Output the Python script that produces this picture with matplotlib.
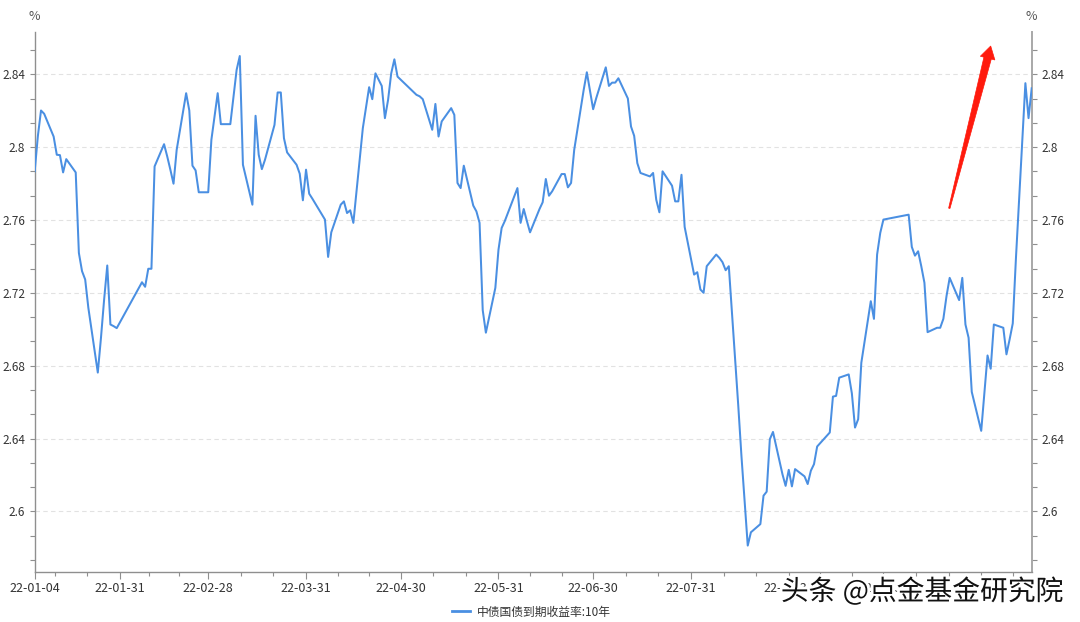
import matplotlib
matplotlib.use("Agg")
import matplotlib.pyplot as plt
import matplotlib.patheffects as pe
from matplotlib.lines import Line2D
from matplotlib.patches import Polygon
import numpy as np
import pandas as pd

plt.rcParams['font.family'] = ['Noto Sans CJK SC', 'DejaVu Sans']

# ---------------- data ----------------
dates = [
    "2022-01-04", "2022-01-05", "2022-01-06", "2022-01-07", "2022-01-10", "2022-01-11", "2022-01-12",
    "2022-01-13", "2022-01-14", "2022-01-17", "2022-01-18", "2022-01-19", "2022-01-20", "2022-01-21",
    "2022-01-24", "2022-01-25", "2022-01-26", "2022-01-27", "2022-01-28", "2022-01-29", "2022-01-30",
    "2022-02-07", "2022-02-08", "2022-02-09", "2022-02-10", "2022-02-11", "2022-02-14", "2022-02-15",
    "2022-02-16", "2022-02-17", "2022-02-18", "2022-02-21", "2022-02-22", "2022-02-23", "2022-02-24",
    "2022-02-25", "2022-02-28",
    "2022-03-01", "2022-03-02", "2022-03-03", "2022-03-04", "2022-03-07", "2022-03-08", "2022-03-09",
    "2022-03-10", "2022-03-11", "2022-03-14", "2022-03-15", "2022-03-16", "2022-03-17", "2022-03-18",
    "2022-03-21", "2022-03-22", "2022-03-23", "2022-03-24", "2022-03-25", "2022-03-28", "2022-03-29",
    "2022-03-30", "2022-03-31",
    "2022-04-01", "2022-04-02", "2022-04-06", "2022-04-07", "2022-04-08", "2022-04-11", "2022-04-12",
    "2022-04-13", "2022-04-14", "2022-04-15", "2022-04-18", "2022-04-19", "2022-04-20", "2022-04-21",
    "2022-04-22", "2022-04-24", "2022-04-25", "2022-04-26", "2022-04-27", "2022-04-28", "2022-04-29",
    "2022-05-05", "2022-05-06", "2022-05-07", "2022-05-09", "2022-05-10", "2022-05-11", "2022-05-12",
    "2022-05-13", "2022-05-16", "2022-05-17", "2022-05-18", "2022-05-19", "2022-05-20", "2022-05-23",
    "2022-05-24", "2022-05-25", "2022-05-26", "2022-05-27", "2022-05-30", "2022-05-31",
    "2022-06-01", "2022-06-02", "2022-06-06", "2022-06-07", "2022-06-08", "2022-06-09", "2022-06-10",
    "2022-06-13", "2022-06-14", "2022-06-15", "2022-06-16", "2022-06-17", "2022-06-20", "2022-06-21",
    "2022-06-22", "2022-06-23", "2022-06-24", "2022-06-27", "2022-06-28", "2022-06-29", "2022-06-30",
    "2022-07-01", "2022-07-04", "2022-07-05", "2022-07-06", "2022-07-07", "2022-07-08", "2022-07-11",
    "2022-07-12", "2022-07-13", "2022-07-14", "2022-07-15", "2022-07-18", "2022-07-19", "2022-07-20",
    "2022-07-21", "2022-07-22", "2022-07-25", "2022-07-26", "2022-07-27", "2022-07-28", "2022-07-29",
    "2022-08-01", "2022-08-02", "2022-08-03", "2022-08-04", "2022-08-05", "2022-08-08", "2022-08-09",
    "2022-08-10", "2022-08-11", "2022-08-12", "2022-08-15", "2022-08-16", "2022-08-17", "2022-08-18",
    "2022-08-19", "2022-08-22", "2022-08-23", "2022-08-24", "2022-08-25", "2022-08-26", "2022-08-29",
    "2022-08-30", "2022-08-31",
    "2022-09-01", "2022-09-02", "2022-09-05", "2022-09-06", "2022-09-07", "2022-09-08", "2022-09-09",
    "2022-09-13", "2022-09-14", "2022-09-15", "2022-09-16", "2022-09-19", "2022-09-20", "2022-09-21",
    "2022-09-22", "2022-09-23", "2022-09-26", "2022-09-27", "2022-09-28", "2022-09-29", "2022-09-30",
    "2022-10-08", "2022-10-09", "2022-10-10", "2022-10-11", "2022-10-12", "2022-10-13", "2022-10-14",
    "2022-10-17", "2022-10-18", "2022-10-19", "2022-10-20", "2022-10-21", "2022-10-24", "2022-10-25",
    "2022-10-26", "2022-10-27", "2022-10-28", "2022-10-31",
    "2022-11-01", "2022-11-02", "2022-11-03", "2022-11-04", "2022-11-07", "2022-11-08", "2022-11-09",
    "2022-11-10", "2022-11-11", "2022-11-14", "2022-11-15", "2022-11-16",
]

yields_10y = [
    2.7867, 2.8060, 2.8201, 2.8183, 2.8058, 2.7958, 2.7956,
    2.7861, 2.7934, 2.7861, 2.7419, 2.7319, 2.7273, 2.7118,
    2.6762, 2.6952, 2.7162, 2.7350, 2.7026, 2.7017, 2.7006,
    2.7258, 2.7233, 2.7332, 2.7332, 2.7894, 2.8016, 2.7949,
    2.7876, 2.7799, 2.7985, 2.8296, 2.8201, 2.7898, 2.7872,
    2.7752, 2.7752,
    2.8040, 2.8168, 2.8296, 2.8126, 2.8126, 2.8276, 2.8424,
    2.8500, 2.7903, 2.7684, 2.8172, 2.7958, 2.7879, 2.7931,
    2.8122, 2.8300, 2.8300, 2.8049, 2.7971, 2.7903, 2.7854,
    2.7708, 2.7876,
    2.7744, 2.7717, 2.7602, 2.7397, 2.7532, 2.7684, 2.7702,
    2.7638, 2.7653, 2.7584, 2.8104, 2.8217, 2.8329, 2.8263,
    2.8405, 2.8336, 2.8159, 2.8259, 2.8405, 2.8482, 2.8387,
    2.8287, 2.8279, 2.8263, 2.8152, 2.8095, 2.8237, 2.8058,
    2.8141, 2.8214, 2.8177, 2.7803, 2.7775, 2.7898, 2.7679,
    2.7647, 2.7584, 2.7105, 2.6981, 2.7227, 2.7437,
    2.7556, 2.7594, 2.7775, 2.7584, 2.7660, 2.7594, 2.7532,
    2.7660, 2.7697, 2.7825, 2.7733, 2.7757, 2.7852, 2.7852,
    2.7779, 2.7803, 2.7985, 2.8314, 2.8411, 2.8311, 2.8208,
    2.8270, 2.8438, 2.8336, 2.8354, 2.8354, 2.8378, 2.8267,
    2.8113, 2.8062, 2.7912, 2.7858, 2.7839, 2.7858, 2.7711,
    2.7642, 2.7867, 2.7788, 2.7702, 2.7702, 2.7848, 2.7562,
    2.7300, 2.7313, 2.7218, 2.7200, 2.7346, 2.7410, 2.7392,
    2.7368, 2.7324, 2.7346, 2.6579, 2.6305, 2.6058, 2.5812,
    2.5885, 2.5930, 2.6086, 2.6108, 2.6396, 2.6436, 2.6204,
    2.6140, 2.6228,
    2.6137, 2.6232, 2.6192, 2.6150, 2.6223, 2.6259, 2.6356,
    2.6433, 2.6630, 2.6634, 2.6734, 2.6752, 2.6648, 2.6460,
    2.6506, 2.6816, 2.7154, 2.7057, 2.7410, 2.7529, 2.7602,
    2.7629, 2.7452, 2.7404, 2.7428, 2.7346, 2.7255, 2.6984,
    2.7008, 2.7008, 2.7057, 2.7182, 2.7282, 2.7160, 2.7282,
    2.7026, 2.6953, 2.6656, 2.6442,
    2.6652, 2.6856, 2.6783, 2.7026, 2.7008, 2.6862, 2.6944,
    2.7032, 2.7388, 2.8351, 2.8159, 2.8323,
]

x_tick_dates = ["2022-01-04", "2022-01-31", "2022-02-28", "2022-03-31", "2022-04-30", "2022-05-31",
                "2022-06-30", "2022-07-31", "2022-08-31", "2022-09-30", "2022-10-31"]
x_tick_labels = ["22-01-04", "22-01-31", "22-02-28", "22-03-31", "22-04-30", "22-05-31",
                 "22-06-30", "22-07-31", "22-08-31", "22-09-30", "22-10-31"]
month_ends = ["2021-12-31", "2022-01-31", "2022-02-28", "2022-03-31", "2022-04-30", "2022-05-31",
              "2022-06-30", "2022-07-31", "2022-08-31", "2022-09-30", "2022-10-31", "2022-11-30"]
y_ticks = [2.60, 2.64, 2.68, 2.72, 2.76, 2.80, 2.84]
y_tick_labels = ["2.6", "2.64", "2.68", "2.72", "2.76", "2.8", "2.84"]
series_label = "中债国债到期收益率:10年"
unit_label = "%"
watermark = "头条 @点金基金研究院"

# ---------------- figure ----------------
W, H = 1080, 622
fig = plt.figure(figsize=(W / 100, H / 100), dpi=100)
ax_l, ax_r, ax_t, ax_b = 34.7, 1031.7, 32.0, 572.0
ax = fig.add_axes([ax_l / W, 1 - ax_b / H, (ax_r - ax_l) / W, (ax_b - ax_t) / H])

LINE_C = '#4A8FE2'
AXIS_C = '#8f8f8f'
TXT_C = '#333333'

xd = pd.to_datetime(dates)
ax.plot(xd, yields_10y, color=LINE_C, lw=1.45, solid_joinstyle='round', zorder=3)

# y ticks
step = 0.04 / 3
minor_y = [2.6 + k * step for k in range(-2, 20) if k % 3 != 0]
ax.set_yticks(y_ticks)
ax.set_yticklabels(y_tick_labels)
ax.set_yticks(minor_y, minor=True)
ax.tick_params(axis='y', which='both', direction='out', length=3.8, width=0.8, color=AXIS_C,
               left=True, right=True, labelleft=True, labelright=True,
               labelsize=8.5, labelcolor=TXT_C, pad=3)

# x ticks
me = pd.to_datetime(month_ends)
minor_x = []
for a, b in zip(me[:-1], me[1:]):
    d = (b - a) / 3
    minor_x += [a + d, a + 2 * d]
ax.set_xticks(pd.to_datetime(x_tick_dates))
ax.set_xticklabels(x_tick_labels)
ax.set_xticks(minor_x, minor=True)
ax.tick_params(axis='x', which='major', direction='out', length=5, width=0.8, color=AXIS_C,
               labelsize=9, labelcolor=TXT_C, pad=2)
ax.tick_params(axis='x', which='minor', direction='out', length=3, width=0.8, color=AXIS_C)

# limits set after ticks (set_xticks can widen the view)
ax.set_xlim(pd.Timestamp("2022-01-04"), pd.Timestamp("2022-11-16"))
ax.set_ylim(2.5667, 2.8632)

for s in ['left', 'bottom', 'right']:
    ax.spines[s].set_color(AXIS_C)
    ax.spines[s].set_linewidth(1.0)
ax.spines['right'].set_color('#a8a8a8')
ax.spines['right'].set_linewidth(1.4)
ax.spines['top'].set_visible(False)

ax.grid(axis='y', which='major', color='#e2e2e2', linestyle=(0, (4, 3)), linewidth=0.8, zorder=0)
ax.set_axisbelow(True)

# unit labels
fig.text(33.8 / W, 1 - 16 / H, unit_label, ha='center', va='center', fontsize=9, color='#555555')
fig.text(1031.7 / W, 1 - 16 / H, unit_label, ha='center', va='center', fontsize=9, color='#555555')

# legend
h = Line2D([], [], color=LINE_C, lw=2)
fig.legend([h], [series_label], loc='center', bbox_to_anchor=(531 / W, 1 - 612 / H),
           frameon=False, fontsize=8.5, handlelength=1.6, handletextpad=0.5,
           labelcolor='#333333', borderpad=0)

# red arrow (annotation)
tail = np.array([949.3, 208.3])
tip = np.array([990.7, 46.0])
u = (tip - tail) / np.linalg.norm(tip - tail)
n = np.array([-u[1], u[0]])
if n[0] < 0:
    n = -n
base = tip - 12.5 * u
pts_px = [tail - 0.7 * n, base - 3.8 * n, base - 7.5 * n, tip, base + 7.5 * n, base + 3.8 * n, tail + 0.7 * n]
pts = [(p[0] / W, 1 - p[1] / H) for p in pts_px]
fig.patches.append(Polygon(pts, closed=True, transform=fig.transFigure, facecolor='#FF1A0D',
                           edgecolor='#FF1A0D', lw=0.5, zorder=5))

# watermark
fig.text(922 / W, 1 - 592 / H, watermark, ha='center', va='center', fontsize=20,
         color='#111111', zorder=10,
         path_effects=[pe.withStroke(linewidth=4, foreground='white')])

fig.savefig("out.png", dpi=100)
